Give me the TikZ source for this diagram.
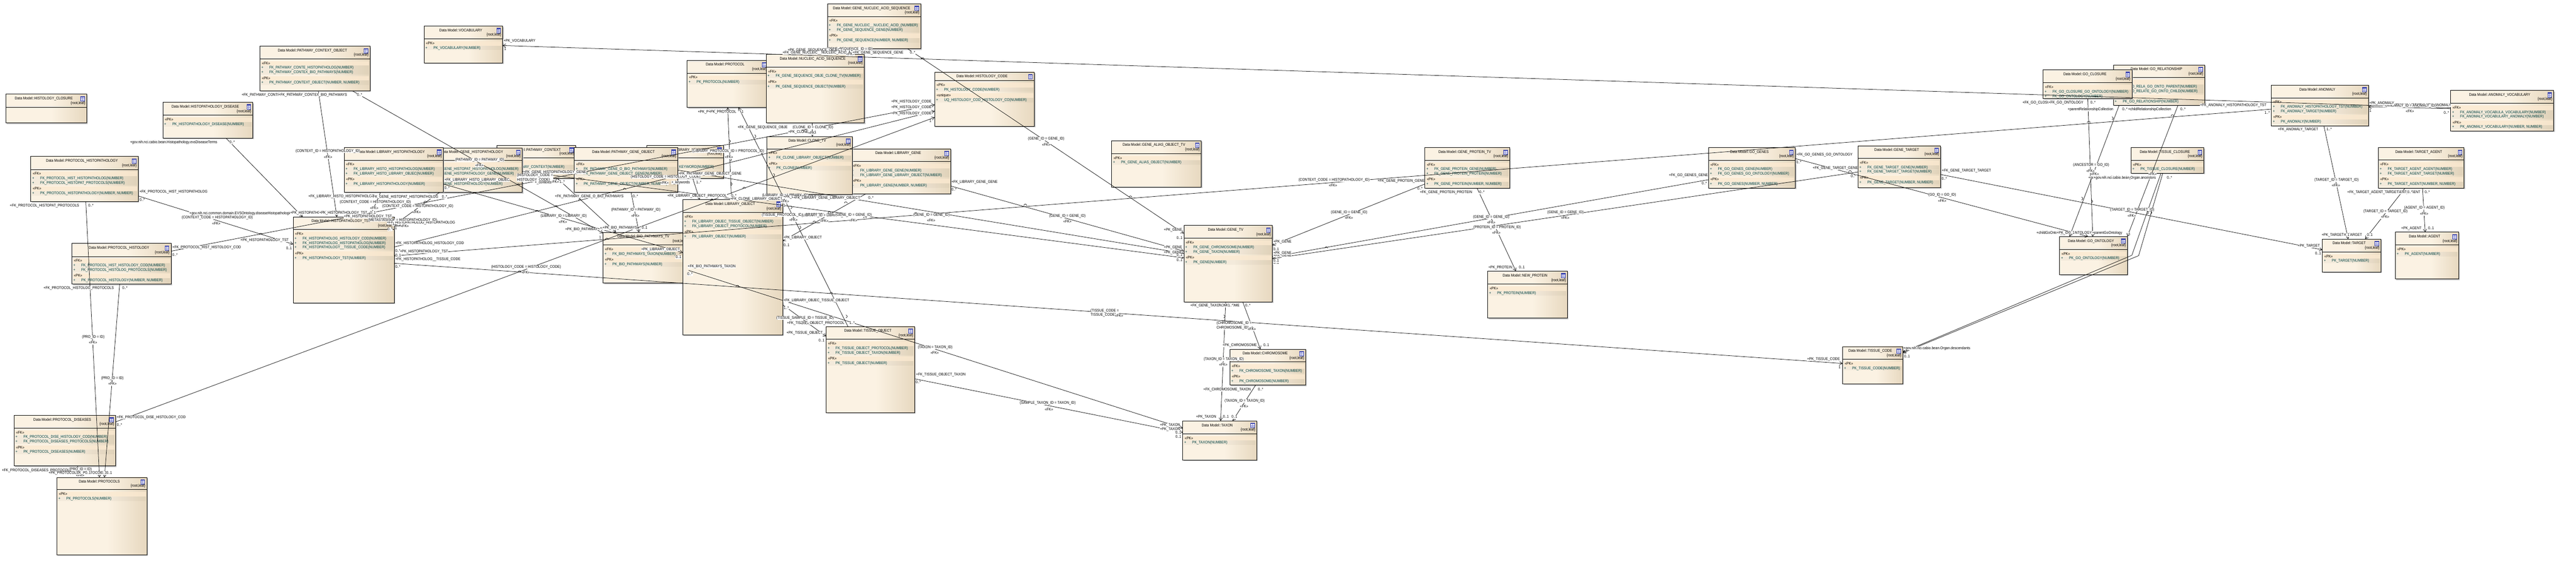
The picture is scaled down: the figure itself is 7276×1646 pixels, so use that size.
\documentclass[tikz,border=0pt]{standalone}
\usepackage{fontspec}
\usetikzlibrary{arrows.meta}
\setmainfont[FakeStretch=0.88]{Liberation Sans}
\definecolor{eaA}{HTML}{FBF2E3}
\definecolor{eaB}{HTML}{E7D8BF}
\definecolor{eaband}{HTML}{FBE9D0}
\definecolor{eatext}{HTML}{004040}
\definecolor{eaicon}{HTML}{3A44B0}
\definecolor{eashadow}{HTML}{C0C0C0}
\definecolor{eaconn}{HTML}{111111}
\pgfdeclarehorizontalshading{eashade}{100bp}{color(0bp)=(eaA); color(25bp)=(eaA); color(53bp)=(eaA); color(75bp)=(eaB); color(100bp)=(eaB)}
\tikzset{
  eabox/.style={draw=black,line width=1pt,shade,shading=eashade,rectangle,inner sep=0pt,outer sep=0pt},
  eatxt/.style={inner sep=0pt,outer sep=0pt,text height=8pt,text depth=2pt,font=\fontsize{11}{12.5}\selectfont},
  labtxt/.style={eatxt,fill=white,inner xsep=0.5pt},
  labml/.style={inner sep=0.5pt,outer sep=0pt,fill=white,align=left,font=\fontsize{11}{12.5}\selectfont},
  conn/.style={draw=eaconn,line width=1.1pt},
  fk/.style={conn,-{Straight Barb[length=8pt,width=10pt,line width=1pt]}},
  hopline/.style={draw=eaconn,line width=1pt},
}
\newcount\eac
\newcommand\nextid{\global\advance\eac by 1 }
\newcommand\eatable[8]{%
  \fill[eashadow] ({#3+3},{#4+3}) rectangle ({#5+3},{#6+3});
  \node[eabox,minimum width={#5-#3},minimum height={#6-#4}] (#1) at ({(#3+#5)/2},{(#4+#6)/2}) {};
  \draw[line width=1pt] (#1.west |- 0,#7) -- (#1.east |- 0,#7);
  \nextid\node[eatxt] (t\the\eac) at ({(#3+#5)/2-7},{#4+12.6}) {Data Model::#2};
  \filldraw[fill=blue!8,draw=eaicon,line width=0.9pt] ({#5-17},{#4+6}) rectangle ({#5-6},{#4+19.5});
  \fill[eaicon] ({#5-17},{#4+6}) rectangle ({#5-6},{#4+9});
  \draw[eaicon!60,line width=0.5pt] ({#5-17},{#4+12.5}) -- ({#5-6},{#4+12.5}) ({#5-17},{#4+16}) -- ({#5-6},{#4+16}) ({#5-12.5},{#4+9}) -- ({#5-12.5},{#4+19.5});
  \ifnum#8=1 \nextid\node[eatxt,anchor=east] (t\the\eac) at ({#5-4},{#7-11}) {\{root,leaf\}};\fi
  \pgfmathsetmacro\rowy{#7+9}\def\rowl{#3}\def\rowr{#5}%
}
\newcommand\st[1]{%
  \pgfmathsetmacro\rowy{\rowy+4}%
  \fill[eaband,opacity=.75] ({\rowl+3},{\rowy-6.3}) rectangle ({\rowr-3},{\rowy+6.3});
  \nextid\node[eatxt,anchor=west] (t\the\eac) at ({\rowl+5.7},\rowy) {«#1»};
  \pgfmathsetmacro\rowy{\rowy+12.7}%
}
\newcommand\msign[2]{%
  \fill[black,opacity=.03] ({\rowl+3},{\rowy-6.3}) rectangle ({\rowr-3},{\rowy+6.3});
  \nextid\node[eatxt,text=eatext] (t\the\eac) at ({\rowl+7},\rowy) {#1};
  \nextid\node[eatxt,text=eatext,anchor=west] (t\the\eac) at ({\rowl+26.8},\rowy) {#2};
  \pgfmathsetmacro\rowy{\rowy+12.7}%
}
\newcommand\me[1]{\msign{+}{#1}}
\newcommand\mm[1]{\msign{-}{#1}}
\newcommand\lab[3]{\nextid\node[labtxt,anchor=west] (t\the\eac) at (#1,#2) {#3};}
\newcommand\labe[3]{\nextid\node[labtxt,anchor=east] (t\the\eac) at (#1,#2) {#3};}
\newcommand\labc[3]{\nextid\node[labtxt] (t\the\eac) at (#1,#2) {#3};}
\newcommand\labm[3]{\nextid\node[labml,anchor=west] (t\the\eac) at (#1,#2) {#3};}
\newcommand\hoph[2]{\draw[hopline] ({#1-4},#2) arc[start angle=180,end angle=360,radius=4];}
\newcommand\hopv[2]{\draw[hopline] (#1,{#2-4}) arc[start angle=90,end angle=-90,radius=4];}
\begin{document}
\catcode`\_=12
\begin{tikzpicture}[x=1pt,y=-1pt]
\useasboundingbox (0,0) rectangle (7276,1646);
\fill[white] (0,0) rectangle (7276,1646);
% ---------- tables
\eatable{HCL}{HISTOLOGY_CLOSURE}{16.6}{266}{245}{347}{302.6}{1}
\eatable{HD}{HISTOPATHOLOGY_DISEASE}{460}{289}{714}{390}{325.5}{1}
\st{PK}\me{PK_HISTOPATHOLOGY_DISEASE(NUMBER)}
\eatable{PH}{PROTOCOL_HISTOPATHOLOGY}{87}{442}{390}{569}{478.6}{1}
\st{FK}\me{FK_PROTOCOL_HIST_HISTOPATHOLOG(NUMBER)}\me{FK_PROTOCOL_HISTOPAT_PROTOCOLS(NUMBER)}
\st{PK}\me{PK_PROTOCOL_HISTOPATHOLOGY(NUMBER, NUMBER)}
\eatable{PL}{PROTOCOL_HISTOLOGY}{203}{688}{483}{803}{724.5}{1}
\st{FK}\me{FK_PROTOCOL_HIST_HISTOLOGY_COD(NUMBER)}\me{FK_PROTOCOL_HISTOLOG_PROTOCOLS(NUMBER)}
\st{PK}\me{PK_PROTOCOL_HISTOLOGY(NUMBER, NUMBER)}
\eatable{PD}{PROTOCOL_DISEASES}{39.5}{1173.4}{326.5}{1316.4}{1209.6}{1}
\st{FK}\me{FK_PROTOCOL_DISE_HISTOLOGY_COD(NUMBER)}\me{FK_PROTOCOL_DISEASES_PROTOCOLS(NUMBER)}
\st{PK}\me{PK_PROTOCOL_DISEASES(NUMBER)}
\eatable{PR}{PROTOCOLS}{160.7}{1348.8}{414.5}{1567.4}{1383.4}{1}
\st{PK}\me{PK_PROTOCOLS(NUMBER)}
\eatable{PCO}{PATHWAY_CONTEXT_OBJECT}{734}{130.6}{1045}{256.6}{166}{1}
\st{FK}\me{FK_PATHWAY_CONTE_HISTOPATHOLOG(NUMBER)}\me{FK_PATHWAY_CONTEX_BIO_PATHWAYS(NUMBER)}
\st{PK}\me{PK_PATHWAY_CONTEXT_OBJECT(NUMBER, NUMBER)}
\eatable{HT}{HISTOPATHOLOGY_TST}{828}{613}{1113}{856}{648.5}{1}
\st{FK}\me{FK_HISTOPATHOLOG_HISTOLOGY_COD(NUMBER)}\me{FK_HISTOPATHOLOG_HISTOPATHOLOG(NUMBER)}\me{FK_HISTOPATHOLOGY__TISSUE_CODE(NUMBER)}
\st{PK}\me{PK_HISTOPATHOLOGY_TST(NUMBER)}
\eatable{VO}{VOCABULARY}{1197.7}{73.5}{1419.6}{177.5}{109.7}{1}
\st{PK}\me{PK_VOCABULARY(NUMBER)}
\eatable{PC}{PATHWAY_CONTEXT}{1404}{411}{1625.6}{503.6}{446}{1}
\st{PK}\me{PK_PATHWAY_CONTEXT(NUMBER)}
\eatable{GH}{GENE_HISTOPATHOLOGY}{1205}{418}{1475}{544}{452.5}{1}
\st{FK}\me{FK_GENE_HISTOPAT_HISTOPATHOLOG(NUMBER)}\me{FK_GENE_HISTOPATHOLOGY_GENE(NUMBER)}
\st{PK}\me{PK_GENE_HISTOPATHOLOGY(NUMBER)}
\eatable{LH}{LIBRARY_HISTOPATHOLOGY}{972}{417}{1252}{543}{452.5}{1}
\st{FK}\me{FK_LIBRARY_HISTO_HISTOPATHOLOG(NUMBER)}\me{FK_LIBRARY_HISTO_LIBRARY_OBJEC(NUMBER)}
\st{PK}\me{PK_LIBRARY_HISTOPATHOLOGY(NUMBER)}
\eatable{LK}{LIBRARY_KEYWORD}{1826.5}{411}{2043}{503.6}{446}{1}
\st{PK}\me{PK_LIBRARY_KEYWORD(NUMBER)}
\eatable{PG}{PATHWAY_GENE_OBJECT}{1622}{417}{1914}{543}{452.5}{1}
\st{FK}\me{FK_PATHWAY_GENE_O_BIO_PATHWAYS(NUMBER)}\me{FK_PATHWAY_GENE_OBJECT_GENE(NUMBER)}
\st{PK}\me{PK_PATHWAY_GENE_OBJECT(NUMBER, NUMBER)}
\eatable{BIO}{BIO_PATHWAYS_TV}{1703.4}{656.6}{1945}{800}{692}{1}
\st{FK}\me{FK_BIO_PATHWAYS_TAXON(NUMBER)}
\st{PK}\me{PK_BIO_PATHWAYS(NUMBER)}
\eatable{LO}{LIBRARY_OBJECT}{1928.6}{564}{2210.5}{946.4}{600.5}{1}
\st{FK}\me{FK_LIBRARY_OBJEC_TISSUE_OBJECT(NUMBER)}\me{FK_LIBRARY_OBJECT_PROTOCOL(NUMBER)}
\st{PK}\me{PK_LIBRARY_OBJECT(NUMBER)}
\eatable{PT}{PROTOCOL}{1940.7}{170.4}{2170}{303.6}{206.6}{1}
\st{PK}\me{PK_PROTOCOL(NUMBER)}
\eatable{NU}{NUCLEIC_ACID_SEQUENCE}{2164}{153.6}{2441}{347.4}{189.3}{1}
\st{FK}\me{FK_GENE_SEQUENCE_OBJE_CLONE_TV(NUMBER)}
\st{PK}\me{PK_GENE_SEQUENCE_OBJECT(NUMBER)}
\eatable{GN}{GENE_NUCLEIC_ACID_SEQUENCE}{2337}{10.7}{2601}{137.8}{46.4}{1}
\st{FK}\me{FK_GENE_NUCLEIC__NUCLEIC_ACID_(NUMBER)}\me{FK_GENE_SEQUENCE_GENE(NUMBER)}
\st{PK}\me{PK_GENE_SEQUENCE(NUMBER, NUMBER)}
\eatable{HC}{HISTOLOGY_CODE}{2640}{203.6}{2921.6}{356.6}{227.6}{0}
\st{PK}\me{PK_HISTOLOGY_CODE(NUMBER)}
\st{unique}\me{UQ_HISTOLOGY_COD_HISTOLOGY_CO(NUMBER)}
\eatable{LG}{LIBRARY_GENE}{2403}{420.4}{2685}{547.4}{456.6}{1}
\st{FK}\mm{FK_LIBRARY_GENE_GENE(NUMBER)}\mm{FK_LIBRARY_GENE_LIBRARY_OBJECT(NUMBER)}
\st{PK}\mm{PK_LIBRARY_GENE(NUMBER, NUMBER)}
\eatable{CL}{CLONE_TV}{2166.5}{385.7}{2407.5}{549.5}{420.4}{1}
\st{FK}\me{FK_CLONE_LIBRARY_OBJECT(NUMBER)}
\st{PK}\me{PK_CLONE(NUMBER)}
\eatable{TO}{TISSUE_OBJECT}{2333.5}{922.4}{2583.5}{1166}{958.7}{1}
\st{FK}\me{FK_TISSUE_OBJECT_PROTOCOL(NUMBER)}\me{FK_TISSUE_OBJECT_TAXON(NUMBER)}
\st{PK}\me{PK_TISSUE_OBJECT(NUMBER)}
\eatable{GA}{GENE_ALIAS_OBJECT_TV}{3139.7}{397.4}{3393}{528.6}{433.7}{1}
\st{PK}\me{PK_GENE_ALIAS_OBJECT(NUMBER)}
\eatable{GT}{GENE_TV}{3343.8}{637}{3593.7}{852.6}{673.5}{1}
\st{FK}\me{FK_GENE_CHROMOSOME(NUMBER)}\me{FK_GENE_TAXON(NUMBER)}
\st{PK}\me{PK_GENE(NUMBER)}
\eatable{CH}{CHROMOSOME}{3473.8}{986.7}{3687.5}{1088}{1022.4}{1}
\st{FK}\me{FK_CHROMOSOME_TAXON(NUMBER)}
\st{PK}\me{PK_CHROMOSOME(NUMBER)}
\eatable{TX}{TAXON}{3340.6}{1189.3}{3549.7}{1300}{1225.3}{1}
\st{PK}\me{PK_TAXON(NUMBER)}
\eatable{GP}{GENE_PROTEIN_TV}{4024.5}{417.3}{4264}{531.6}{452.6}{1}
\st{FK}\me{FK_GENE_PROTEIN_GENE(NUMBER)}\me{FK_GENE_PROTEIN_PROTEIN(NUMBER)}
\st{PK}\me{PK_GENE_PROTEIN(NUMBER, NUMBER)}
\eatable{GG}{GO_GENES}{4825.7}{417.3}{5070.6}{531.6}{452.6}{1}
\st{FK}\me{FK_GO_GENES_GENE(NUMBER)}\me{FK_GO_GENES_GO_ONTOLOGY(NUMBER)}
\st{PK}\me{PK_GO_GENES(NUMBER, NUMBER)}
\eatable{NP}{NEW_PROTEIN}{4202}{766}{4427}{898.5}{802.6}{1}
\st{PK}\me{PK_PROTEIN(NUMBER)}
\eatable{GTA}{GENE_TARGET}{5247.8}{411.7}{5481}{529.6}{447.4}{1}
\st{FK}\me{FK_GENE_TARGET_GENE(NUMBER)}\me{FK_GENE_TARGET_TARGET(NUMBER)}
\st{PK}\me{PK_GENE_TARGET(NUMBER, NUMBER)}
\eatable{GR}{GO_RELATIONSHIP}{5969}{183.7}{6226.8}{297}{219.4}{1}
\st{FK}\me{FK_GO_RELA_GO_ONTO_PARENT(NUMBER)}\me{FK_GO_RELATE_GO_ONTO_CHILD(NUMBER)}
\st{PK}\me{PK_GO_RELATIONSHIP(NUMBER)}
\eatable{GC}{GO_CLOSURE}{5770.8}{197.4}{6021.4}{278}{233.7}{1}
\st{FK}\me{FK_GO_CLOSURE_GO_ONTOLOGY(NUMBER)}\me{FK_GO_ONTOLOGY(NUMBER)}
\eatable{GO}{GO_ONTOLOGY}{5817.3}{668.4}{6008.7}{775.5}{704.6}{1}
\st{PK}\me{PK_GO_ONTOLOGY(NUMBER)}
\eatable{TCL}{TISSUE_CLOSURE}{6018.9}{417.3}{6224.7}{488.8}{452.6}{1}
\st{PK}\me{PK_TISSUE_CLOSURE(NUMBER)}
\eatable{TC}{TISSUE_CODE}{5204.6}{979.3}{5374.5}{1084.3}{1015}{1}
\st{PK}\me{PK_TISSUE_CODE(NUMBER)}
\eatable{AN}{ANOMALY}{6415.5}{240.6}{6689.4}{355.4}{276.3}{1}
\st{FK}\me{FK_ANOMALY_HISTOPATHOLOGY_TST(NUMBER)}\me{FK_ANOMALY_TARGET(NUMBER)}
\st{PK}\me{PK_ANOMALY(NUMBER)}
\eatable{AV}{ANOMALY_VOCABULARY}{6922}{255.4}{7213}{369.6}{291.5}{1}
\st{FK}\me{FK_ANOMALY_VOCABULA_VOCABULARY(NUMBER)}\me{FK_ANOMALY_VOCABULARY_ANOMALY(NUMBER)}
\st{PK}\me{PK_ANOMALY_VOCABULARY(NUMBER, NUMBER)}
\eatable{TA}{TARGET_AGENT}{6717.5}{417.4}{6959.8}{531.7}{452.2}{1}
\st{FK}\me{FK_TARGET_AGENT_AGENT(NUMBER)}\me{FK_TARGET_AGENT_TARGET(NUMBER)}
\st{PK}\me{PK_TARGET_AGENT(NUMBER, NUMBER)}
\eatable{TG}{TARGET}{6559.6}{675.4}{6725}{768.3}{711.6}{1}
\st{PK}\me{PK_TARGET(NUMBER)}
\eatable{AG}{AGENT}{6765.5}{656}{6944.7}{788.4}{692.4}{1}
\st{PK}\me{PK_AGENT(NUMBER)}
% ---------- connectors
\draw[fk] (PCO.south -| 899,0) -- (HT.north -| 951.5,0);
\draw[fk] (PCO.south -| 995,0) -- (BIO.west |- 0,659);
\draw[fk] (HD.south -| 638,0) -- (HT.north -| 855,0);
\draw[fk] (PH.east |- 0,553.6) -- (HT.west |- 0,690);
\draw[fk] (PH.south -| 242.3,0) -- (PR.north -| 281,0);
\draw[fk] (PL.south -| 338,0) -- (PR.north -| 295,0);
\draw[fk] (PD.south -| 219,0) -- (PR.north -| 226,0);
\draw[fk] (PL.east |- 0,709.7) -- (HC.west |- 0,296);
\draw[fk] (PD.east |- 0,1192) -- (HC.west |- 0,331.6);
\draw[fk] (HT.east |- 0,698) -- (HC.west |- 0,313.8);
\draw[fk] (HT.east |- 0,744) -- (TC.west |- 0,1027);
\draw[fk] (LH.south -| 1075,0) -- (HT.north -| 1045,0);
\draw[fk] (GH.south -| 1241,0) -- (HT.east |- 0,636);
\draw[fk] (HT.east |- 0,638) -- (1130,638) -- (1130,620) -- (1060,620) -- (HT.north -| 1060,0);
\draw[fk] (LH.east |- 0,520) -- (LO.west |- 0,714);
\draw[fk] (GH.east |- 0,484) -- (GT.west |- 0,728.6);
\draw[fk] (PG.east |- 0,480.5) -- (GT.west |- 0,716);
\draw[fk] (LG.east |- 0,525.5) -- (GT.west |- 0,709.7);
\draw[fk] (GN.south -| 2563.8,0) -- (GT.west |- 0,659.7);
\draw[fk] (LG.south -| 2446,0) -- (LO.east |- 0,681);
\draw[fk] (CL.south -| 2205,0) -- (LO.north -| 2200,0);
\draw[fk] (NU.south -| 2294.6,0) -- (CL.north -| 2294.6,0);
\draw[fk] (GN.south -| 2399,0) -- (NU.north -| 2399,0);
\draw[fk] (PG.south -| 1782.5,0) -- (BIO.north -| 1804.8,0);
\draw[fk] (PC.south -| 1574,0) -- (BIO.north -| 1740,0);
\draw[fk] (LK.south -| 1956.6,0) -- (LO.north -| 1976,0);
\draw[fk] (LO.north -| 2066,0) -- (PT.south -| 2055.5,0);
\draw[fk] (TO.north -| 2395,0) -- (PT.south -| 2086,0);
\draw[fk] (LO.east |- 0,861) -- (TO.west |- 0,950.5);
\draw[fk] (BIO.east |- 0,764) -- (TX.west |- 0,1210);
\draw[fk] (TO.east |- 0,1070.4) -- (TX.west |- 0,1222);
\draw[fk] (GT.south -| 3462,0) -- (TX.north -| 3447.7,0);
\draw[fk] (GT.south -| 3510,0) -- (CH.north -| 3560,0);
\draw[fk] (CH.south -| 3546.5,0) -- (TX.north -| 3481.5,0);
\draw[fk] (GP.west |- 0,520) -- (GT.east |- 0,692.8);
\draw[fk] (GG.west |- 0,507.7) -- (GT.east |- 0,726);
\draw[fk] (GTA.west |- 0,486) -- (GT.east |- 0,731);
\draw[fk] (GP.south -| 4172,0) -- (NP.north -| 4281.6,0);
\draw[fk] (GG.east |- 0,448) -- (GO.north -| 5898,0);
\draw[fk] (GC.south -| 5897,0) -- (GO.north -| 5911,0);
\draw[fk] (GR.south -| 5985.7,0) -- (GO.north -| 5845.4,0);
\draw[fk] (GR.south -| 6152,0) -- (GO.north -| 6008.7,0);
\draw[fk] (TCL.south -| 6104,0) -- (6021.4,721.4) -- (TC.east |- 0,995);
\draw[fk] (TCL.south -| 6109,0) -- (6040.6,722.4) -- (TC.east |- 0,997);
\draw[fk] (AN.south -| 6563.8,0) -- (TG.north -| 6632.4,0);
\draw[fk] (TA.south -| 6793,0) -- (TG.north -| 6680.4,0);
\draw[fk] (TA.south -| 6842.4,0) -- (AG.north -| 6850,0);
\draw[fk] (GTA.east |- 0,493) -- (TG.west |- 0,705.8);
\draw[fk] (AV.west |- 0,307) -- (AN.east |- 0,301.8);
\draw[fk] (AV.west |- 0,305) -- (VO.east |- 0,128.6);
\draw[fk] (AN.west |- 0,308.5) -- (HT.east |- 0,723);
% ---------- line hops
\hoph{736.6}{663}\hoph{1201}{572.4}\hoph{1340}{547}\hoph{1464}{523}\hoph{1516.6}{598}\hoph{1571}{585}
\hoph{1638}{567}\hoph{1764}{535.7}\hoph{1574}{508.7}\hoph{1714}{677}\hoph{1467.5}{769}
\hoph{2606}{167}\hoph{2896}{580.6}\hoph{2586.7}{604.6}\hoph{2443}{616}\hoph{2300}{628.6}\hopv{2258}{650.5}
\hopv{2233}{594}\hopv{2184}{502.5}\hopv{2131}{393}\hopv{2151}{438}\hoph{2102}{533}\hopv{2064}{528}
\hopv{2062}{459}\hopv{2059}{407}\hoph{2011}{566}\hoph{2389}{574}\hoph{2343}{602}
\hoph{2083}{810}\hoph{2347.6}{830}\hopv{2389}{902}\hoph{3193}{557.6}\hoph{3746}{701.5}\hopv{3456}{902}
\hoph{5899.6}{346.4}\hopv{5965}{342}\hoph{6136}{328}\hoph{5225.5}{486}\hopv{5879}{569}\hopv{5906.6}{577}
\hopv{6064}{609}\hopv{6073.7}{609}
% ---------- labels, left part
\lab{682}{268}{+FK_PATHWAY_CONTEX_HISTOPATHOLOG}
\lab{786}{268}{+FK_PATHWAY_CONTEX_BIO_PATHWAYS}\lab{1008}{268}{0..*}
\labc{926}{427.5}{(CONTEXT_ID = HISTOPATHOLOGY_ID)}\labc{926.6}{445}{«FK»}
\lab{367}{402.5}{+gov.nih.nci.cabio.bean.Histopathology.evsDiseaseTerms}\lab{648}{402.5}{0..*}
\lab{534.5}{602.6}{+gov.nih.nci.common.domain.EVSOntology.diseaseHistopathologie}\lab{855}{602.6}{0..1}
\labc{613.7}{614.8}{(CONTEXT_CODE = HISTOPATHOLOGY_ID)}\labc{611}{632}{«FK»}
\lab{393.5}{542}{+FK_PROTOCOL_HIST_HISTOPATHOLOG}\lab{394}{565}{0..*}
\lab{679}{678.6}{+PK_HISTOPATHOLOGY_TST}\lab{808}{702}{0..1}
\lab{27.4}{580.6}{+FK_PROTOCOL_HISTOPAT_PROTOCOLS}\lab{249}{580.6}{0..*}
\labc{263.4}{952.7}{(PRO_ID = ID)}\labc{262.8}{969}{«FK»}
\lab{122.4}{814.6}{+FK_PROTOCOL_HISTOLOG_PROTOCOLS}\lab{345}{814.6}{0..*}
\labc{317.6}{1068.7}{(PRO_ID = ID)}\labc{317.6}{1085}{«FK»}
\lab{5}{1329}{+FK_PROTOCOL_DISEASES_PROTOCOLS}
\labc{227.5}{1325.6}{(PRO_ID = ID)}\labc{226.4}{1344}{«FK»}
\lab{210}{1337}{+PK_PROTOCOLS}\lab{137}{1337}{+PK_PROTOCOLS}\lab{240}{1337}{0..1}
\lab{285}{1337}{0..1}\lab{300}{1337}{0..1}
\lab{486.6}{698.5}{+FK_PROTOCOL_HIST_HISTOLOGY_COD}\lab{486.6}{720.4}{0..*}
\lab{329.7}{1180}{+FK_PROTOCOL_DISE_HISTOLOGY_COD}\lab{329.7}{1201.5}{0..*}
% ---------- labels around HISTOPATHOLOGY_TST
\labe{956}{601.6}{+PK_HISTOPATHOLOGY_TST}\lab{956}{601.6}{0..1}
\labe{1038}{601.6}{+PK_HISTOPATHOLOGY_TST}\lab{1045}{601.6}{0..1}
\lab{970.7}{611.7}{+PK_HISTOPATHOLOGY_TST}
\lab{870.5}{555.6}{+FK_LIBRARY_HISTO_HISTOPATHOLOG}\lab{1083}{556.7}{0..*}
\labc{1060}{571.4}{(CONTEXT_CODE = HISTOPATHOLOGY_ID)}\labc{1057}{588}{«FK»}
\labe{1238.5}{556.7}{+FK_GENE_HISTOPAT_HISTOPATHOLOG}\lab{1248}{556.7}{0..*}
\labc{1180}{582.6}{(CONTEXT_CODE = HISTOPATHOLOGY_ID)}\labc{1177}{600}{«FK»}
\lab{1092.5}{629.6}{+FK_HISTOPATHOLOG_HISTOPATHOLOG}
\lab{1039.5}{621.4}{(METASTASISOF = HISTOPATHOLOGY_ID)}\labc{1143}{639}{«FK»}
\lab{1108}{634}{1}\lab{1115}{645}{1}\lab{1094}{648}{0..*}
\lab{1116}{687}{+FK_HISTOPATHOLOG_HISTOLOGY_COD}\lab{1116}{710}{0..*}
\labe{1266}{711}{+PK_HISTOPATHOLOGY_TST}\lab{1116}{722}{0..1}
\lab{1116}{732.6}{+FK_HISTOPATHOLOG__TISSUE_CODE}\lab{1116}{754.6}{0..*}
% ---------- labels, library and pathway
\lab{1422}{116}{+PK_VOCABULARY}\lab{1424}{139}{1}
\lab{1478}{487}{+FK_GENE_HISTOPATHOLOGY_GENE}
\labm{1460}{502.5}{(HISTOLOGY_CODE =\\HISTOLOGY_CODE)}\labc{1567}{514}{«FK»}
\lab{1255}{509}{+FK_LIBRARY_HISTO_LIBRARY_OBJEC}\lab{1255}{531.6}{0..*}
\labc{1592}{611}{(LIBRARY_ID = LIBRARY_ID)}\labc{1590}{628}{«FK»}
\lab{1811}{704.6}{+PK_LIBRARY_OBJECT}\lab{1908}{727}{0..1}
\labc{1355}{451.5}{(PATHWAY_ID = PATHWAY_ID)}\labc{1354}{468}{«FK»}
\lab{1596}{647.5}{+PK_BIO_PATHWAY}\lab{1692}{671}{1}
\lab{1694}{646}{+pathway}\lab{1743}{646}{0..1}
\lab{1510}{516}{+_contexts}\lab{1580}{515}{1..*}
\lab{1567}{555.6}{+FK_PATHWAY_GENE_O_BIO_PATHWAYS}\lab{1787}{555.6}{0..*}
\labc{1796}{593.4}{(PATHWAY_ID = PATHWAY_ID)}\labc{1794.6}{610}{«FK»}
\labe{1800.4}{644}{+PK_BIO_PATHWAYS}\lab{1812}{644}{0..1}
\labc{1880}{499.5}{(HISTOLOGY_CODE = HISTOLOGY_CODE)}\labc{1877}{517}{«FK»}
\lab{1896}{516}{+_keywords}\lab{1966}{516}{1..*}
\labc{1486}{754.6}{(HISTOLOGY_CODE = HISTOLOGY_CODE)}\labc{1485}{770}{«FK»}
\lab{1916}{491}{+FK_PATHWAY_GENE_OBJECT_GENE}
\lab{1955}{426.5}{(LIBRARY_PROTOCOL_ID = PROTOCOL_ID)}\labc{2059}{444}{«FK»}
\lab{1884.6}{553.6}{+FK_LIBRARY_OBJECT_PROTOCOL}\lab{2065}{553.6}{0..*}
\labe{2050}{315.7}{+PK_PROTOCOL}\lab{2052}{315.7}{0..1}
\labe{2080}{315.7}{+PK_PROTOCOL}\lab{2094}{315.7}{1}
\lab{1942}{753.6}{+FK_BIO_PATHWAYS_TAXON}\lab{1941}{775.5}{0..*}
\lab{2062}{561.7}{+FK_CLONE_LIBRARY_OBJECT}
\labc{2218}{552.5}{(LIBRARY_ID = LIBRARY_ID)}\labc{2217}{570}{«FK»}
\lab{2212}{557}{+PK_LIBRARY_OBJECT}\lab{2212}{580.6}{1}
\lab{2241}{559}{+FK_LIBRARY_GENE_LIBRARY_OBJECT}\lab{2452}{559}{0..*}
\lab{2212}{671.4}{+PK_LIBRARY_OBJECT}\lab{2213}{693}{0..1}
\labc{2250}{607}{(TISSUE_PROTOCOL_ID = PROTOCOL_ID)}\labc{2241}{622.4}{«FK»}
\labc{2329}{608.7}{(LIBRARY_ID = LIBRARY_ID)}\labc{2328.4}{625}{«FK»}
\labc{2411}{607.6}{(GENE_ID = GENE_ID)}\labc{2410}{624}{«FK»}
\labc{2631}{607.6}{(GENE_ID = GENE_ID)}\labc{2630}{624}{«FK»}
\lab{2223}{912.8}{+FK_TISSUE_OBJECT_PROTOCOL}\lab{2399}{912.8}{1..*}
\lab{2212}{849.5}{+FK_LIBRARY_OBJEC_TISSUE_OBJECT}\lab{2213}{871.4}{1..*}
\labc{2274}{898.5}{(TISSUE_SAMPLE_ID = TISSUE_ID)}\labc{2273}{915}{«FK»}
\lab{2221}{940.3}{+PK_TISSUE_OBJECT}\lab{2312}{962.8}{0..1}
% ---------- labels, sequences and clones
\labc{2400}{138.3}{(GENE_SEQUENCE_ID = ID)}
\lab{2224.5}{142.3}{+PK_GENE_SEQUENCE_OBJECT}\lab{2403}{142.3}{1}
\lab{2210}{149}{+FK_GENE_NUCLEIC__NUCLEIC_ACID_}\labc{2402}{154}{«FK»}
\lab{2408}{148.5}{+FK_GENE_SEQUENCE_GENE}\lab{2570}{148.5}{0..*}
\lab{2083}{359.7}{+FK_GENE_SEQUENCE_OBJE}\labc{2296}{359.7}{(CLONE_ID = CLONE_ID)}
\lab{2226}{373.5}{+PK_CLONE}\labc{2295}{376}{«FK»}\lab{2300}{374}{1}
\lab{2517}{287}{+PK_HISTOLOGY_CODE}\lab{2517}{303.6}{+PK_HISTOLOGY_CODE}\lab{2517}{321.4}{+PK_HISTOLOGY_CODE}\lab{2625}{343}{1}
\lab{2687}{513.7}{+FK_LIBRARY_GENE_GENE}\lab{2687}{535.5}{0..*}
\labc{3015}{610.7}{(GENE_ID = GENE_ID)}\labc{3015}{626.5}{«FK»}
\labc{2955}{392}{(GENE_ID = GENE_ID)}\labc{2955}{409}{«FK»}
\lab{2587}{1058.7}{+FK_TISSUE_OBJECT_TAXON}\lab{2586}{1080.6}{0..*}
\labc{2641.6}{981.6}{(TAXON = TAXON_ID)}\labc{2640}{998}{«FK»}
\lab{2880}{1139.3}{(SAMPLE_TAXON_ID = TAXON_ID)}\labc{2963}{1157}{«FK»}
% ---------- labels around GENE_TV
\lab{3287}{649.5}{+PK_GENE}\lab{3323}{673}{0..1}
\lab{3287}{698.5}{+PK_GENE}\lab{3287}{713}{+PK_GENE}\lab{3323}{721}{0..1}\lab{3323}{735}{0..1}
\labm{3080}{884}{(TISSUE_CODE =\\TISSUE_CODE)}\labc{3160.7}{893}{«FK»}
\lab{3372}{864}{+FK_GENE_CHROMOSOME}\lab{3361.6}{864}{+FK_GENE_TAXON}\lab{3468}{864}{1..*}\lab{3517}{864}{0..*}
\labm{3435.6}{920}{(CHROMOSOME_ID =\\CHROMOSOME_ID)}\labc{3535.7}{930}{«FK»}
\labc{3456.6}{1014.8}{(TAXON_ID = TAXON_ID)}\labc{3455}{1031.6}{«FK»}
\lab{3453}{975.5}{+PK_CHROMOSOME}\lab{3568}{975.5}{0..1}
\lab{3398.6}{1100.7}{+FK_CHROMOSOME_TAXON}\lab{3553}{1100.7}{0..*}
\labc{3515.5}{1132.7}{(TAXON_ID = TAXON_ID)}\labc{3514}{1149}{«FK»}
\lab{3378}{1177.7}{+PK_TAXON}\lab{3454}{1177.7}{0..1}\lab{3478}{1177.7}{0..1}
\lab{3276}{1200.7}{+PK_TAXON}\lab{3276}{1212.7}{+PK_TAXON}\lab{3320}{1222.7}{0..1}\lab{3320}{1235}{0..1}
\lab{3596}{682.7}{+PK_GENE}\lab{3596}{704.6}{0..1}
\lab{3596}{722}{+PK_GENE}\lab{3596}{715.8}{+PK_GENE}\lab{3596}{743}{0..1}\lab{3596}{737}{0..1}
\labc{3810.6}{600.5}{(GENE_ID = GENE_ID)}\labc{3810}{616}{«FK»}
\labc{3768}{508.7}{(CONTEXT_CODE = HISTOPATHOLOGY_ID)}\labc{3765}{525}{«FK»}
\labe{4024}{510.7}{+FK_GENE_PROTEIN_GENE}\lab{4003}{532.7}{0..*}
\lab{4010}{543.4}{+FK_GENE_PROTEIN_PROTEIN}\lab{4178}{543.4}{0..*}
\labc{4228.8}{642.3}{(PROTEIN_ID = PROTEIN_ID)}\labc{4226.5}{659}{«FK»}
\labc{4212}{612.8}{(GENE_ID = GENE_ID)}\labc{4212}{630}{«FK»}
\labc{4421.7}{599.5}{(GENE_ID = GENE_ID)}\labc{4421}{616}{«FK»}
\lab{4203.6}{755.6}{+PK_PROTEIN}\lab{4290}{755.6}{0..1}
% ---------- labels, GO and tissue
\labe{4825}{495.4}{+FK_GO_GENES_GENE}\lab{4806}{518}{0..*}
\lab{5073.7}{436.7}{+FK_GO_GENES_GO_ONTOLOGY}\lab{5073}{459}{0..*}
\labe{5248}{475.5}{+FK_GENE_TARGET_GENE}\lab{5227}{498}{0..*}
\lab{5484.4}{482.7}{+FK_GENE_TARGET_TARGET}\lab{5484}{505}{0..*}
\labc{5485.7}{550.5}{(GO_ID = GO_ID)}\labc{5485.7}{568}{«FK»}
\lab{5104}{1015}{+PK_TISSUE_CODE}\lab{5193}{1038}{1}
\lab{5712}{290}{+FK_GO_CLOSURE_GO_ONTOLOGY}\lab{5785.5}{290}{+FK_GO_ONTOLOGY}\lab{5904}{290}{0..*}
\lab{5839.7}{309.7}{+parentRelationshipCollection}\lab{5994}{309.7}{0..*}
\lab{6010.6}{309.7}{+childRelationshipCollection}\lab{6158}{309.7}{0..*}
\labc{5906.6}{466}{(ANCESTOR = GO_ID)}\labc{5904.7}{483.7}{«FK»}\labc{5917}{493}{«FK»}\labc{6080}{492}{«FK»}
\lab{5898}{502}{+gov.nih.nci.cabio.bean.Organ.descendants}\lab{5913}{502}{+gov.nih.nci.cabio.bean.Organ.ancestors}\lab{6120}{502}{0..*}
\labc{6022.7}{592.3}{(TARGET_ID = TARGET_ID)}\labc{6021.4}{609.7}{«FK»}
\lab{5751.7}{657.7}{+childGoOntology}\labe{5909}{657.7}{+PK_GO_ONTOLOGY}\lab{5843}{657.7}{0..1}
\lab{5909}{657.7}{+parentGoOntology}\lab{6011}{657.7}{1}
\lab{5376}{985}{+gov.nih.nci.cabio.bean.Organ.descendants}\lab{5378}{1007.7}{0..1}
% ---------- labels, anomaly and target
\lab{6213.7}{297.3}{+FK_ANOMALY_HISTOPATHOLOGY_TST}\lab{6396}{319.6}{1..*}
\lab{6433.4}{366.5}{+FK_ANOMALY_TARGET}\lab{6571}{366.5}{1..*}
\labe{6924}{298}{+FK_ANOMALY_VOCABULARY_ANOMALY}
\labc{6809}{298.7}{(ANOMALY_ID = ANOMALY_ID)}\labc{6806.7}{314.7}{«FK»}
\lab{6691.4}{291.5}{+PK_ANOMALY}\lab{6692}{313.8}{1}\lab{6902}{319.6}{0..*}
\labc{6599.5}{509}{(TARGET_ID = TARGET_ID)}\labc{6598}{525}{«FK»}
\labe{6837}{543.8}{+FK_TARGET_AGENT_AGENT}\lab{6629.6}{543.8}{+FK_TARGET_AGENT_TARGET}\lab{6799}{543.8}{0..*}\lab{6848}{543.8}{0..*}
\labc{6848}{586.6}{(AGENT_ID = AGENT_ID)}\labc{6847}{604}{«FK»}
\labc{6738}{597}{(TARGET_ID = TARGET_ID)}\labc{6736.7}{613}{«FK»}
\lab{6782}{644.6}{+PK_AGENT}\lab{6858}{644.6}{0..1}
\labe{6672}{664.7}{+PK_TARGET}\lab{6557}{664.7}{+PK_TARGET}\lab{6630}{664.7}{1}\lab{6685}{664.7}{0..1}
\lab{6489.6}{694.6}{+PK_TARGET}\lab{6539}{716.5}{0..1}
\end{tikzpicture}
\end{document}
